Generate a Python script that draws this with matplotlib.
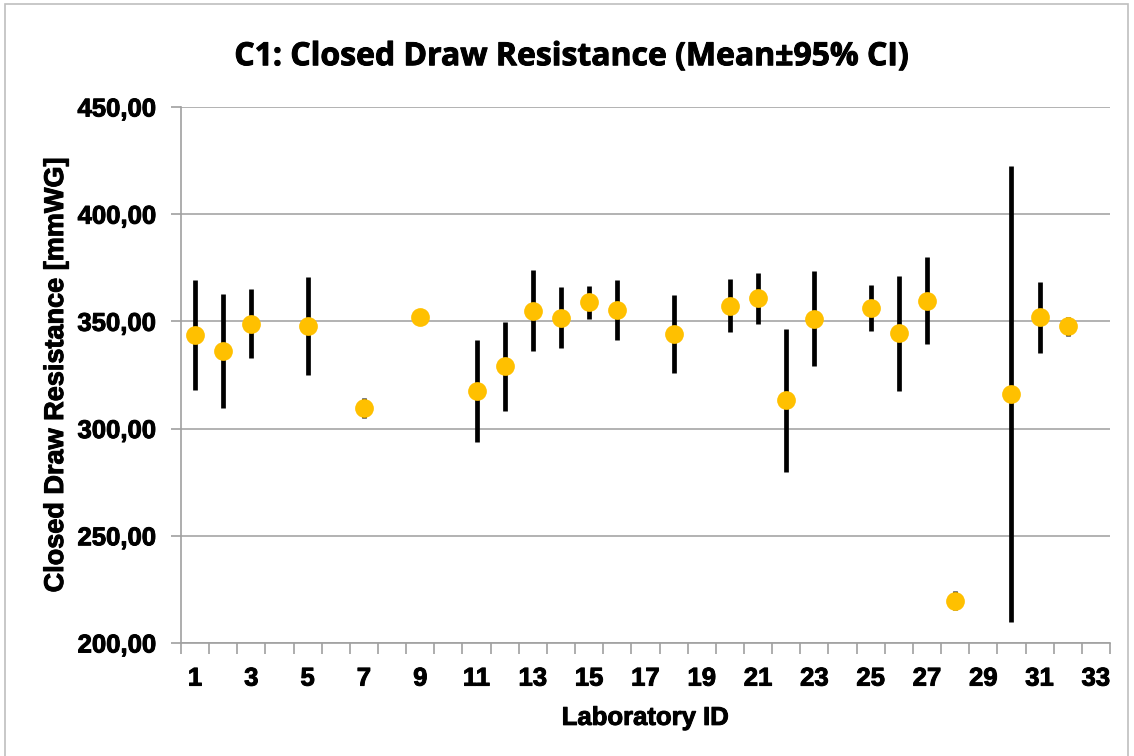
import matplotlib
matplotlib.use("Agg")
import matplotlib.pyplot as plt
import matplotlib.patheffects as pe
from matplotlib.patches import Rectangle
from matplotlib.ticker import FuncFormatter, MultipleLocator
import numpy as np

# Laboratory data: mean and 95% CI bounds
lab_ids = [1, 2, 3, 5, 7, 9, 11, 12, 13, 14, 15, 16, 18, 20, 21,
           22, 23, 25, 26, 27, 28, 30, 31, 32]
means = [343.8, 336.3, 348.9, 347.7, 309.6, 352.0, 317.4, 329.0, 355.0, 351.7,
         358.9, 355.1, 344.1, 357.3, 360.8, 313.2, 351.1, 356.2, 344.4, 359.7,
         219.7, 316.0, 351.9, 347.7]
ci_upper = [369.4, 362.8, 365.1, 370.7, 314.3, 352.0, 341.5, 349.7, 374.0, 365.9,
            366.5, 369.3, 362.5, 369.8, 372.7, 346.4, 373.3, 367.1, 371.2, 380.0,
            224.1, 422.3, 368.5, 352.0]
ci_lower = [318.1, 309.6, 332.7, 325.0, 304.8, 352.0, 293.6, 308.2, 336.0, 337.6,
            351.1, 341.1, 325.7, 345.0, 348.8, 279.9, 329.0, 345.3, 317.5, 339.5,
            215.5, 209.6, 335.2, 343.0]

x_labels = [str(i) for i in range(1, 34, 2)]

sans = 'Liberation Sans'
sz = 18.5
heavy = [pe.withStroke(linewidth=0.7, foreground='black')]

fig = plt.figure(figsize=(11.34, 7.56), dpi=100)
ax = fig.add_axes([0.1596, 0.1495, 0.8192, 0.709])

for x, lo, hi in zip(lab_ids, ci_lower, ci_upper):
    ax.vlines(x, lo, hi, color='black', linewidth=3.4, zorder=2)
ax.plot(lab_ids, means, 'o', color='#FFC000', markersize=13.5,
        markeredgewidth=0, zorder=3)

ax.set_xlim(0.5, 33.5)
ax.set_ylim(200, 450)
ax.yaxis.set_major_locator(MultipleLocator(50))
ax.yaxis.set_major_formatter(FuncFormatter(lambda v, p: f"{v:.2f}".replace('.', ',')))
ax.grid(axis='y', color='#a6a6a6', linewidth=1.2)
ax.set_axisbelow(True)

# category labels at odd ids, tick marks between categories
ax.set_xticks(range(1, 34, 2))
ax.set_xticklabels(x_labels)
ax.set_xticks(np.arange(0.5, 34, 1), minor=True)
ax.tick_params(axis='x', which='major', length=0, pad=17)
ax.tick_params(axis='x', which='minor', length=8, color='#a0a0a0', width=1.2)
ax.tick_params(axis='y', length=7, color='#a0a0a0', width=1.2, pad=11)

for s in ['top', 'right']:
    ax.spines[s].set_visible(False)
for s in ['left', 'bottom']:
    ax.spines[s].set_color('#a0a0a0')
    ax.spines[s].set_linewidth(1.2)

for lab in ax.get_xticklabels() + ax.get_yticklabels():
    lab.set_fontfamily(sans)
    lab.set_fontweight('bold')
    lab.set_fontsize(sz)
    lab.set_path_effects(heavy)

ax.set_xlabel('Laboratory ID', family=sans, weight='bold', size=sz,
              labelpad=11, path_effects=heavy)
ax.set_ylabel('Closed Draw Resistance [mmWG]', family=sans, weight='bold', size=19.5,
              labelpad=6, path_effects=heavy)

fig.text(0.5044, 0.925, 'C1: Closed Draw Resistance (Mean\u00b195% CI)',
         ha='center', va='center', family='Open Sans', weight='bold', size=23,
         path_effects=heavy)

fig.patches.append(Rectangle((5 / 1134, -0.02), 1123 / 1134, 1.02 - 4 / 756,
                             transform=fig.transFigure, fill=False,
                             edgecolor='#bfbfbf', linewidth=1.2))

plt.savefig('out.png', dpi=100)
